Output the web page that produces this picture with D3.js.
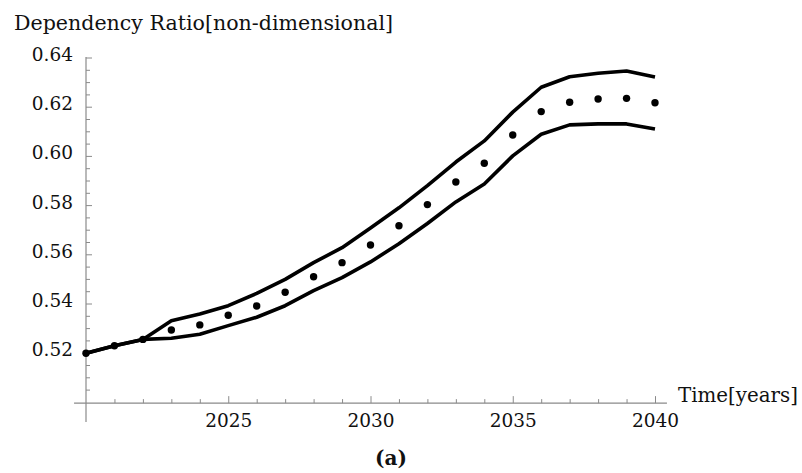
<!DOCTYPE html>
<html>
<head>
<meta charset="utf-8">
<script src="https://cdn.jsdelivr.net/npm/d3@7"></script>
<style>
  html, body { margin: 0; padding: 0; background: #fff; }
  svg { display: block; }
  svg text { font-family: "DejaVu Serif", serif; fill: #111; }
</style>
</head>
<body>
<svg id="chart" width="802" height="473"></svg>
<script>
// ---- data ----
const years = [2020, 2021, 2022, 2023, 2024, 2025, 2026, 2027, 2028, 2029, 2030,
               2031, 2032, 2033, 2034, 2035, 2036, 2037, 2038, 2039, 2040];
const meanRatio = [0.5198, 0.5228, 0.5254, 0.5292, 0.5313, 0.5352, 0.5390, 0.5446, 0.5509, 0.5566, 0.5638,
                   0.5716, 0.5802, 0.5894, 0.5970, 0.6085, 0.6180, 0.6218, 0.6231, 0.6234, 0.6216];
const upperRatio = [0.5198, 0.5228, 0.5254, 0.5330, 0.5357, 0.5391, 0.5441, 0.5498, 0.5566, 0.5627, 0.5707,
                    0.5789, 0.5879, 0.5975, 0.6061, 0.6178, 0.6279, 0.6322, 0.6336, 0.6345, 0.6321];
const lowerRatio = [0.5198, 0.5228, 0.5254, 0.5259, 0.5275, 0.5310, 0.5344, 0.5391, 0.5452, 0.5505, 0.5569,
                    0.5643, 0.5725, 0.5813, 0.5886, 0.6000, 0.6088, 0.6126, 0.6130, 0.6130, 0.6109];
const xMajorTicks = [2025, 2030, 2035, 2040];
const xMinorTicks = [2021, 2022, 2023, 2024, 2026, 2027, 2028, 2029, 2031, 2032, 2033, 2034,
                     2036, 2037, 2038, 2039];
const yMajorTicks = [0.52, 0.54, 0.56, 0.58, 0.60, 0.62, 0.64];
const yMinorTicks = [0.505, 0.51, 0.515, 0.525, 0.53, 0.535, 0.545, 0.55, 0.555, 0.565, 0.57, 0.575,
                     0.585, 0.59, 0.595, 0.605, 0.61, 0.615, 0.625, 0.63, 0.635];
const yTitle = "Dependency Ratio[non-dimensional]";
const xTitle = "Time[years]";
const panelLabel = "(a)";

// ---- layout ----
const svg = d3.select("#chart");
const x = d3.scaleLinear().domain([2020, 2040]).range([86, 655]);
const y = d3.scaleLinear().domain([0.52, 0.62]).range([352.7, 106.7]);
const originY = 0.4995;              // where the horizontal axis crosses
const xAxisSpan = [2019.58, 2040.42];
const yAxisSpan = [0.4918, 0.6402];
const axisColor = "#8a8a8a";
const tickFont = 18.5;
const titleFont = 20;

// axis lines
svg.append("line")
  .attr("x1", x(xAxisSpan[0])).attr("x2", x(xAxisSpan[1]))
  .attr("y1", y(originY)).attr("y2", y(originY))
  .attr("stroke", axisColor).attr("stroke-width", 1.2);
svg.append("line")
  .attr("x1", x(2020)).attr("x2", x(2020))
  .attr("y1", y(yAxisSpan[0])).attr("y2", y(yAxisSpan[1]))
  .attr("stroke", axisColor).attr("stroke-width", 1.2);

// y axis ticks (inside, to the right) with labels on the left
const yMajor = svg.append("g").attr("transform", `translate(${x(2020)},0)`)
  .call(d3.axisLeft(y).tickValues(yMajorTicks).tickSizeInner(-6).tickSizeOuter(0)
        .tickPadding(13).tickFormat(d3.format(".2f")));
const yMinor = svg.append("g").attr("transform", `translate(${x(2020)},0)`)
  .call(d3.axisLeft(y).tickValues(yMinorTicks).tickSizeInner(-4).tickSizeOuter(0).tickFormat(""));

// x axis ticks (inside, upwards) with labels below
const xMajor = svg.append("g").attr("transform", `translate(0,${y(originY)})`)
  .call(d3.axisBottom(x).tickValues(xMajorTicks).tickSizeInner(-7).tickSizeOuter(0)
        .tickPadding(11).tickFormat(d3.format("d")));
const xMinor = svg.append("g").attr("transform", `translate(0,${y(originY)})`)
  .call(d3.axisBottom(x).tickValues(xMinorTicks).tickSizeInner(-4).tickSizeOuter(0).tickFormat(""));

[yMajor, yMinor, xMajor, xMinor].forEach(g => {
  g.attr("font-family", null).attr("font-size", null);
  g.select(".domain").remove();
  g.selectAll(".tick line").attr("stroke", axisColor).attr("stroke-width", 1);
  g.selectAll(".tick text").attr("font-size", tickFont).attr("fill", "#111");
});
yMajor.selectAll(".tick text").attr("dy", "0.16em");

// bounds
const line = d3.line().x((d, i) => x(years[i])).y(d => y(d));
[upperRatio, lowerRatio].forEach(series => {
  svg.append("path").datum(series)
    .attr("d", line)
    .attr("fill", "none").attr("stroke", "#000")
    .attr("stroke-width", 3.6).attr("stroke-linejoin", "round");
});

// mean points
svg.append("g").selectAll("circle").data(meanRatio).join("circle")
  .attr("cx", (d, i) => x(years[i])).attr("cy", d => y(d))
  .attr("r", 3.7).attr("fill", "#000");

// titles
svg.append("text").attr("x", 14).attr("y", 30)
  .attr("font-size", titleFont).attr("textLength", 379).attr("lengthAdjust", "spacingAndGlyphs")
  .text(yTitle);
svg.append("text").attr("x", 678).attr("y", 402)
  .attr("font-size", titleFont).attr("textLength", 120).attr("lengthAdjust", "spacingAndGlyphs")
  .text(xTitle);
svg.append("text").attr("x", 391).attr("y", 465)
  .attr("text-anchor", "middle").attr("font-size", titleFont).attr("font-weight", "bold")
  .text(panelLabel);
</script>
</body>
</html>
